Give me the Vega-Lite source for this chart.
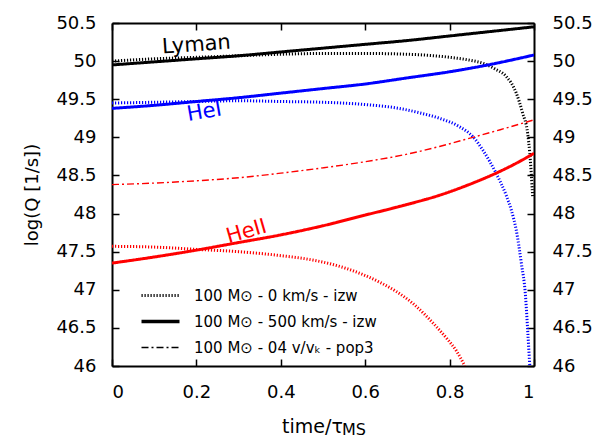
{
  "$schema": "https://vega.github.io/schema/vega-lite/v6.json",
  "width": 422,
  "height": 343,
  "autosize": {"type": "none"},
  "padding": {"left": 112, "top": 23, "right": 69, "bottom": 72},
  "config": {
    "font": "DejaVu Sans",
    "view": {"stroke": null},
    "axis": {
      "grid": false,
      "domainColor": "black",
      "domainWidth": 2,
      "tickColor": "black",
      "tickWidth": 1.5,
      "tickSize": -7,
      "labelColor": "black",
      "labelFontSize": 18,
      "titleColor": "black",
      "titleFontSize": 18,
      "titleFontWeight": "normal"
    },
    "legend": {
      "orient": "none",
      "legendX": 41,
      "legendY": 265,
      "padding": 0,
      "symbolType": "stroke",
      "symbolSize": 1444,
      "symbolStrokeColor": "black",
      "labelFontSize": 15,
      "labelColor": "black",
      "labelOffset": 26,
      "rowPadding": 10,
      "labelLimit": 400,
      "title": null
    }
  },
  "data": {
    "values": [
      {"t": 0, "q": 49.95, "ion": "Lyman", "model": "100 M⊙ - 500 km/s - izw"},
      {"t": 0.1, "q": 49.99, "ion": "Lyman", "model": "100 M⊙ - 500 km/s - izw"},
      {"t": 0.2, "q": 50.03, "ion": "Lyman", "model": "100 M⊙ - 500 km/s - izw"},
      {"t": 0.3, "q": 50.07, "ion": "Lyman", "model": "100 M⊙ - 500 km/s - izw"},
      {"t": 0.4, "q": 50.12, "ion": "Lyman", "model": "100 M⊙ - 500 km/s - izw"},
      {"t": 0.5, "q": 50.17, "ion": "Lyman", "model": "100 M⊙ - 500 km/s - izw"},
      {"t": 0.6, "q": 50.22, "ion": "Lyman", "model": "100 M⊙ - 500 km/s - izw"},
      {"t": 0.7, "q": 50.27, "ion": "Lyman", "model": "100 M⊙ - 500 km/s - izw"},
      {"t": 0.8, "q": 50.33, "ion": "Lyman", "model": "100 M⊙ - 500 km/s - izw"},
      {"t": 0.9, "q": 50.39, "ion": "Lyman", "model": "100 M⊙ - 500 km/s - izw"},
      {"t": 1.0, "q": 50.45, "ion": "Lyman", "model": "100 M⊙ - 500 km/s - izw"},

      {"t": 0, "q": 50.0, "ion": "Lyman", "model": "100 M⊙ - 0 km/s - izw"},
      {"t": 0.1, "q": 50.03, "ion": "Lyman", "model": "100 M⊙ - 0 km/s - izw"},
      {"t": 0.2, "q": 50.05, "ion": "Lyman", "model": "100 M⊙ - 0 km/s - izw"},
      {"t": 0.3, "q": 50.07, "ion": "Lyman", "model": "100 M⊙ - 0 km/s - izw"},
      {"t": 0.4, "q": 50.09, "ion": "Lyman", "model": "100 M⊙ - 0 km/s - izw"},
      {"t": 0.5, "q": 50.10, "ion": "Lyman", "model": "100 M⊙ - 0 km/s - izw"},
      {"t": 0.6, "q": 50.10, "ion": "Lyman", "model": "100 M⊙ - 0 km/s - izw"},
      {"t": 0.7, "q": 50.09, "ion": "Lyman", "model": "100 M⊙ - 0 km/s - izw"},
      {"t": 0.8, "q": 50.05, "ion": "Lyman", "model": "100 M⊙ - 0 km/s - izw"},
      {"t": 0.85, "q": 50.01, "ion": "Lyman", "model": "100 M⊙ - 0 km/s - izw"},
      {"t": 0.88, "q": 49.97, "ion": "Lyman", "model": "100 M⊙ - 0 km/s - izw"},
      {"t": 0.91, "q": 49.89, "ion": "Lyman", "model": "100 M⊙ - 0 km/s - izw"},
      {"t": 0.934, "q": 49.8, "ion": "Lyman", "model": "100 M⊙ - 0 km/s - izw"},
      {"t": 0.958, "q": 49.58, "ion": "Lyman", "model": "100 M⊙ - 0 km/s - izw"},
      {"t": 0.973, "q": 49.32, "ion": "Lyman", "model": "100 M⊙ - 0 km/s - izw"},
      {"t": 0.985, "q": 49.05, "ion": "Lyman", "model": "100 M⊙ - 0 km/s - izw"},
      {"t": 0.99, "q": 48.79, "ion": "Lyman", "model": "100 M⊙ - 0 km/s - izw"},
      {"t": 0.993, "q": 48.57, "ion": "Lyman", "model": "100 M⊙ - 0 km/s - izw"},
      {"t": 0.996, "q": 48.3, "ion": "Lyman", "model": "100 M⊙ - 0 km/s - izw"},
      {"t": 0.997, "q": 48.22, "ion": "Lyman", "model": "100 M⊙ - 0 km/s - izw"},

      {"t": 0, "q": 49.38, "ion": "HeI", "model": "100 M⊙ - 500 km/s - izw"},
      {"t": 0.1, "q": 49.42, "ion": "HeI", "model": "100 M⊙ - 500 km/s - izw"},
      {"t": 0.2, "q": 49.47, "ion": "HeI", "model": "100 M⊙ - 500 km/s - izw"},
      {"t": 0.3, "q": 49.52, "ion": "HeI", "model": "100 M⊙ - 500 km/s - izw"},
      {"t": 0.4, "q": 49.58, "ion": "HeI", "model": "100 M⊙ - 500 km/s - izw"},
      {"t": 0.5, "q": 49.64, "ion": "HeI", "model": "100 M⊙ - 500 km/s - izw"},
      {"t": 0.6, "q": 49.7, "ion": "HeI", "model": "100 M⊙ - 500 km/s - izw"},
      {"t": 0.7, "q": 49.78, "ion": "HeI", "model": "100 M⊙ - 500 km/s - izw"},
      {"t": 0.8, "q": 49.86, "ion": "HeI", "model": "100 M⊙ - 500 km/s - izw"},
      {"t": 0.9, "q": 49.96, "ion": "HeI", "model": "100 M⊙ - 500 km/s - izw"},
      {"t": 1.0, "q": 50.08, "ion": "HeI", "model": "100 M⊙ - 500 km/s - izw"},

      {"t": 0, "q": 49.45, "ion": "HeI", "model": "100 M⊙ - 0 km/s - izw"},
      {"t": 0.1, "q": 49.46, "ion": "HeI", "model": "100 M⊙ - 0 km/s - izw"},
      {"t": 0.2, "q": 49.47, "ion": "HeI", "model": "100 M⊙ - 0 km/s - izw"},
      {"t": 0.3, "q": 49.48, "ion": "HeI", "model": "100 M⊙ - 0 km/s - izw"},
      {"t": 0.4, "q": 49.47, "ion": "HeI", "model": "100 M⊙ - 0 km/s - izw"},
      {"t": 0.5, "q": 49.46, "ion": "HeI", "model": "100 M⊙ - 0 km/s - izw"},
      {"t": 0.6, "q": 49.43, "ion": "HeI", "model": "100 M⊙ - 0 km/s - izw"},
      {"t": 0.68, "q": 49.38, "ion": "HeI", "model": "100 M⊙ - 0 km/s - izw"},
      {"t": 0.73, "q": 49.32, "ion": "HeI", "model": "100 M⊙ - 0 km/s - izw"},
      {"t": 0.776, "q": 49.25, "ion": "HeI", "model": "100 M⊙ - 0 km/s - izw"},
      {"t": 0.823, "q": 49.14, "ion": "HeI", "model": "100 M⊙ - 0 km/s - izw"},
      {"t": 0.855, "q": 49.01, "ion": "HeI", "model": "100 M⊙ - 0 km/s - izw"},
      {"t": 0.879, "q": 48.83, "ion": "HeI", "model": "100 M⊙ - 0 km/s - izw"},
      {"t": 0.91, "q": 48.53, "ion": "HeI", "model": "100 M⊙ - 0 km/s - izw"},
      {"t": 0.934, "q": 48.24, "ion": "HeI", "model": "100 M⊙ - 0 km/s - izw"},
      {"t": 0.946, "q": 48.05, "ion": "HeI", "model": "100 M⊙ - 0 km/s - izw"},
      {"t": 0.958, "q": 47.78, "ion": "HeI", "model": "100 M⊙ - 0 km/s - izw"},
      {"t": 0.97, "q": 47.35, "ion": "HeI", "model": "100 M⊙ - 0 km/s - izw"},
      {"t": 0.98, "q": 46.91, "ion": "HeI", "model": "100 M⊙ - 0 km/s - izw"},
      {"t": 0.985, "q": 46.47, "ion": "HeI", "model": "100 M⊙ - 0 km/s - izw"},
      {"t": 0.99, "q": 46.0, "ion": "HeI", "model": "100 M⊙ - 0 km/s - izw"},

      {"t": 0, "q": 47.35, "ion": "HeII", "model": "100 M⊙ - 500 km/s - izw"},
      {"t": 0.1, "q": 47.43, "ion": "HeII", "model": "100 M⊙ - 500 km/s - izw"},
      {"t": 0.2, "q": 47.52, "ion": "HeII", "model": "100 M⊙ - 500 km/s - izw"},
      {"t": 0.3, "q": 47.62, "ion": "HeII", "model": "100 M⊙ - 500 km/s - izw"},
      {"t": 0.4, "q": 47.72, "ion": "HeII", "model": "100 M⊙ - 500 km/s - izw"},
      {"t": 0.5, "q": 47.84, "ion": "HeII", "model": "100 M⊙ - 500 km/s - izw"},
      {"t": 0.6, "q": 47.98, "ion": "HeII", "model": "100 M⊙ - 500 km/s - izw"},
      {"t": 0.7, "q": 48.12, "ion": "HeII", "model": "100 M⊙ - 500 km/s - izw"},
      {"t": 0.776, "q": 48.24, "ion": "HeII", "model": "100 M⊙ - 500 km/s - izw"},
      {"t": 0.855, "q": 48.4, "ion": "HeII", "model": "100 M⊙ - 500 km/s - izw"},
      {"t": 0.918, "q": 48.55, "ion": "HeII", "model": "100 M⊙ - 500 km/s - izw"},
      {"t": 0.958, "q": 48.66, "ion": "HeII", "model": "100 M⊙ - 500 km/s - izw"},
      {"t": 1.0, "q": 48.79, "ion": "HeII", "model": "100 M⊙ - 500 km/s - izw"},

      {"t": 0, "q": 47.57, "ion": "HeII", "model": "100 M⊙ - 0 km/s - izw"},
      {"t": 0.1, "q": 47.56, "ion": "HeII", "model": "100 M⊙ - 0 km/s - izw"},
      {"t": 0.2, "q": 47.53, "ion": "HeII", "model": "100 M⊙ - 0 km/s - izw"},
      {"t": 0.3, "q": 47.5, "ion": "HeII", "model": "100 M⊙ - 0 km/s - izw"},
      {"t": 0.397, "q": 47.45, "ion": "HeII", "model": "100 M⊙ - 0 km/s - izw"},
      {"t": 0.476, "q": 47.39, "ion": "HeII", "model": "100 M⊙ - 0 km/s - izw"},
      {"t": 0.555, "q": 47.28, "ion": "HeII", "model": "100 M⊙ - 0 km/s - izw"},
      {"t": 0.634, "q": 47.1, "ion": "HeII", "model": "100 M⊙ - 0 km/s - izw"},
      {"t": 0.673, "q": 46.98, "ion": "HeII", "model": "100 M⊙ - 0 km/s - izw"},
      {"t": 0.713, "q": 46.82, "ion": "HeII", "model": "100 M⊙ - 0 km/s - izw"},
      {"t": 0.768, "q": 46.52, "ion": "HeII", "model": "100 M⊙ - 0 km/s - izw"},
      {"t": 0.795, "q": 46.35, "ion": "HeII", "model": "100 M⊙ - 0 km/s - izw"},
      {"t": 0.816, "q": 46.2, "ion": "HeII", "model": "100 M⊙ - 0 km/s - izw"},
      {"t": 0.836, "q": 46.0, "ion": "HeII", "model": "100 M⊙ - 0 km/s - izw"},

      {"t": 0, "q": 48.38, "ion": "HeII", "model": "100 M⊙ - 04 v/vₖ - pop3"},
      {"t": 0.1, "q": 48.4, "ion": "HeII", "model": "100 M⊙ - 04 v/vₖ - pop3"},
      {"t": 0.2, "q": 48.43, "ion": "HeII", "model": "100 M⊙ - 04 v/vₖ - pop3"},
      {"t": 0.3, "q": 48.47, "ion": "HeII", "model": "100 M⊙ - 04 v/vₖ - pop3"},
      {"t": 0.4, "q": 48.53, "ion": "HeII", "model": "100 M⊙ - 04 v/vₖ - pop3"},
      {"t": 0.5, "q": 48.6, "ion": "HeII", "model": "100 M⊙ - 04 v/vₖ - pop3"},
      {"t": 0.6, "q": 48.68, "ion": "HeII", "model": "100 M⊙ - 04 v/vₖ - pop3"},
      {"t": 0.7, "q": 48.78, "ion": "HeII", "model": "100 M⊙ - 04 v/vₖ - pop3"},
      {"t": 0.776, "q": 48.88, "ion": "HeII", "model": "100 M⊙ - 04 v/vₖ - pop3"},
      {"t": 0.855, "q": 49.0, "ion": "HeII", "model": "100 M⊙ - 04 v/vₖ - pop3"},
      {"t": 0.92, "q": 49.1, "ion": "HeII", "model": "100 M⊙ - 04 v/vₖ - pop3"},
      {"t": 1.0, "q": 49.23, "ion": "HeII", "model": "100 M⊙ - 04 v/vₖ - pop3"}
    ]
  },
  "resolve": {"axis": {"x": "independent", "y": "independent"}},
  "layer": [
    {
      "mark": {"type": "line", "interpolate": "monotone", "clip": true},
      "encoding": {
        "x": {
          "field": "t", "type": "quantitative",
          "scale": {"domain": [0, 1], "nice": false, "zero": false},
          "axis": {"orient": "bottom", "values": [0, 0.2, 0.4, 0.6, 0.8, 1], "format": "~g", "labelPadding": 24, "title": "time/τ", "titleX": 200, "titleFontSize": 19, "titlePadding": 16}
        },
        "y": {
          "field": "q", "type": "quantitative",
          "scale": {"domain": [46, 50.5], "nice": false, "zero": false},
          "axis": {"orient": "left", "values": [46, 46.5, 47, 47.5, 48, 48.5, 49, 49.5, 50, 50.5], "format": "~g", "labelPadding": 23, "title": "log(Q [1/s])", "titlePadding": 14}
        },
        "color": {
          "field": "ion", "type": "nominal",
          "scale": {"domain": ["Lyman", "HeI", "HeII"], "range": ["#000000", "#0000ff", "#ff0000"]},
          "legend": null
        },
        "strokeDash": {
          "field": "model", "type": "nominal",
          "scale": {"domain": ["100 M⊙ - 0 km/s - izw", "100 M⊙ - 500 km/s - izw", "100 M⊙ - 04 v/vₖ - pop3"], "range": [[1.2, 1.8], [1, 0], [7, 3, 2, 3]]},
          "legend": {
            "encode": {
              "symbols": {
                "update": {
                  "strokeWidth": {"signal": "datum.value === '100 M⊙ - 500 km/s - izw' ? 3.5 : (datum.value === '100 M⊙ - 0 km/s - izw' ? 3 : 1.3)"}
                }
              }
            }
          }
        },
        "strokeWidth": {
          "condition": {"test": "datum.model === '100 M⊙ - 04 v/vₖ - pop3'", "value": 1.4},
          "value": 3
        }
      }
    },
    {
      "data": {"values": [{}]},
      "layer": [
        {
          "mark": {"type": "text", "text": "Lyman", "fontSize": 21, "angle": 356, "color": "black", "align": "center", "baseline": "middle"},
          "encoding": {
            "x": {"datum": 0.2, "type": "quantitative", "axis": {"orient": "top", "labels": false, "title": null, "values": [0, 0.2, 0.4, 0.6, 0.8, 1]}},
            "y": {"datum": 50.21, "type": "quantitative", "axis": {"orient": "right", "values": [46, 46.5, 47, 47.5, 48, 48.5, 49, 49.5, 50, 50.5], "format": "~g", "labelPadding": 25, "title": null}}
          }
        },
        {
          "mark": {"type": "text", "text": "HeI", "fontSize": 21, "angle": 350, "color": "#0000ff", "align": "center", "baseline": "middle"},
          "encoding": {
            "x": {"datum": 0.219, "type": "quantitative", "axis": {"orient": "top", "labels": false, "title": null, "values": [0, 0.2, 0.4, 0.6, 0.8, 1]}},
            "y": {"datum": 49.33, "type": "quantitative", "axis": {"orient": "right", "values": [46, 46.5, 47, 47.5, 48, 48.5, 49, 49.5, 50, 50.5], "format": "~g", "labelPadding": 25, "title": null}}
          }
        },
        {
          "mark": {"type": "text", "text": "HeII", "fontSize": 21, "angle": 344, "color": "#ff0000", "align": "center", "baseline": "middle"},
          "encoding": {
            "x": {"datum": 0.319, "type": "quantitative", "axis": {"orient": "top", "labels": false, "title": null, "values": [0, 0.2, 0.4, 0.6, 0.8, 1]}},
            "y": {"datum": 47.76, "type": "quantitative", "axis": {"orient": "right", "values": [46, 46.5, 47, 47.5, 48, 48.5, 49, 49.5, 50, 50.5], "format": "~g", "labelPadding": 25, "title": null}}
          }
        },
        {
          "mark": {"type": "text", "text": "MS", "fontSize": 16, "color": "black", "align": "left", "baseline": "alphabetic", "dx": 19, "dy": 69},
          "encoding": {
            "x": {"datum": 0.5, "type": "quantitative", "axis": {"orient": "top", "labels": false, "title": null, "values": [0, 0.2, 0.4, 0.6, 0.8, 1]}},
            "y": {"datum": 46, "type": "quantitative", "axis": {"orient": "right", "values": [46, 46.5, 47, 47.5, 48, 48.5, 49, 49.5, 50, 50.5], "format": "~g", "labelPadding": 25, "title": null}}
          }
        }
      ]
    }
  ]
}
